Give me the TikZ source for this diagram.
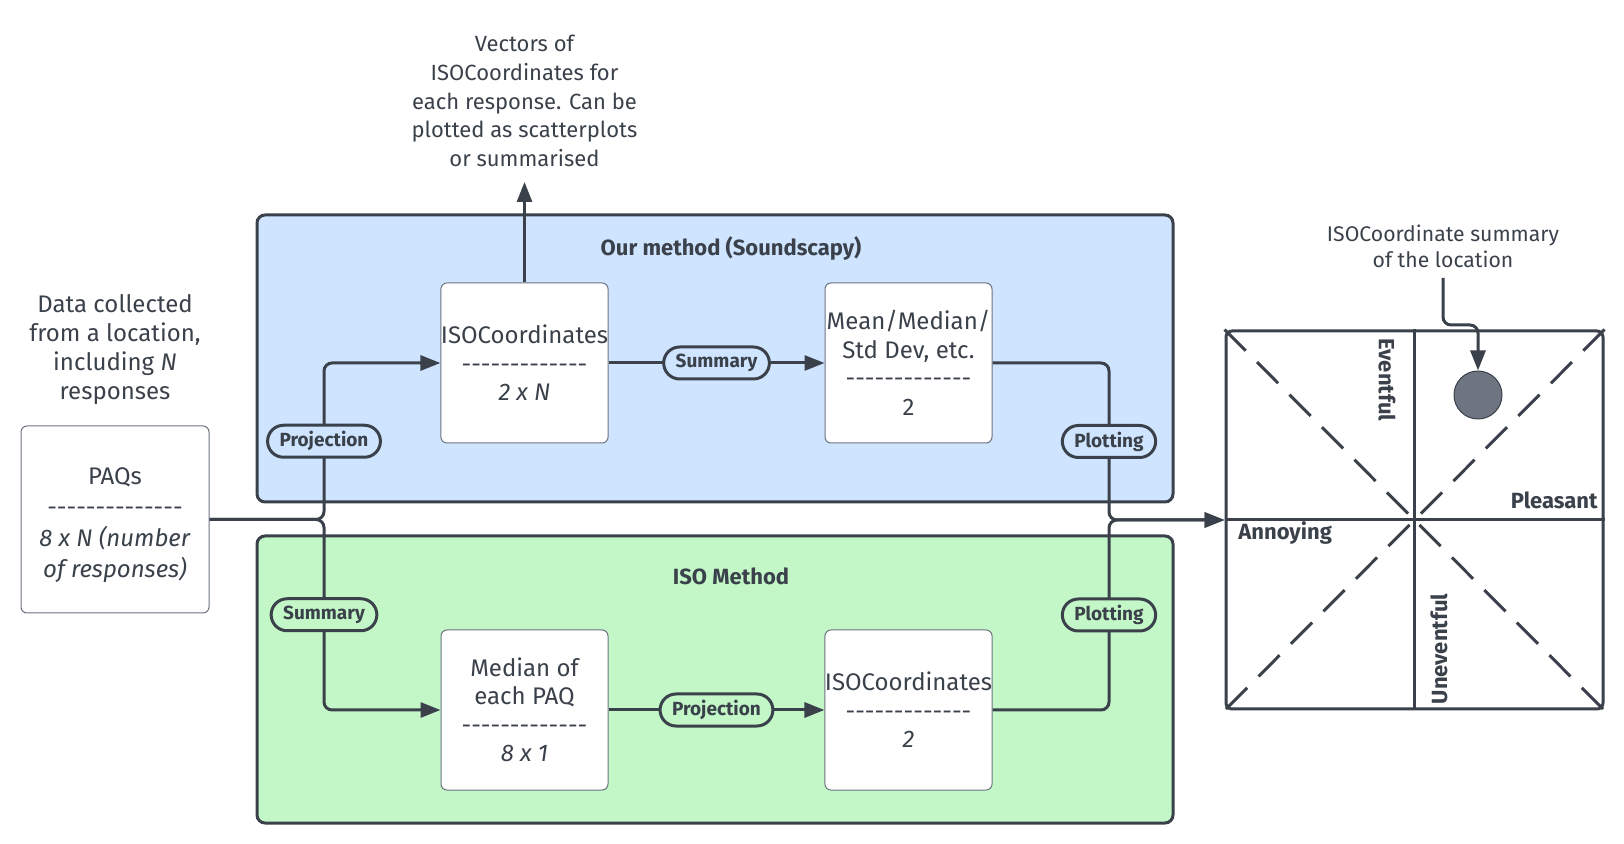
\documentclass[tikz,border=0pt]{standalone}
\usepackage{fontspec}
\setmainfont{Fira Sans}
\usetikzlibrary{arrows.meta}
\definecolor{ink}{HTML}{3A414A}
\definecolor{bluebg}{HTML}{CFE4FF}
\definecolor{greenbg}{HTML}{C3F7C8}
\definecolor{dotfill}{HTML}{6F7580}
\definecolor{boxedge}{HTML}{6B7280}
\newcommand\hy{\mbox{-}}
\newcommand\dshrow{\hy\hy\hy\hy\hy\hy\hy\hy\hy\hy\hy\hy\hy}
\begin{document}
\begin{tikzpicture}[x=0.5pt,y=-0.5pt,
  every node/.style={text=ink},
  conn/.style={draw=ink, line width=1.5pt, rounded corners=4pt},
  arr/.style={-{Triangle[length=10pt,width=7.5pt]}},
  container/.style={draw=ink, line width=1.5pt, rounded corners=4pt, minimum width=458pt, minimum height=143.5pt, inner sep=0pt},
  card/.style={draw=boxedge, line width=0.5pt, fill=white, rounded corners=3pt, minimum width=83.5pt, minimum height=80pt, align=center, inner sep=0pt, font=\fontsize{12}{14.25}\selectfont},
  pill/.style={rectangle, rounded corners=8pt, draw=ink, line width=1.5pt, font=\fontsize{9.5}{11}\selectfont\bfseries, minimum height=16pt, inner xsep=6pt, inner ysep=0pt},
  ttl/.style={font=\fontsize{11}{13}\selectfont\bfseries},
  note/.style={align=center},
  axislbl/.style={font=\fontsize{11}{13}\selectfont\bfseries, inner sep=0pt},
  axis/.style={draw=ink, line width=1.5pt}
]
\useasboundingbox (0,0) rectangle (1624,844);

% containers
\node[container, fill=bluebg] (ours) at (715,358.5) {};
\node[container, fill=greenbg] (isom) at (715,679.5) {};
\node[ttl] (ourst) at (731,248) {Our method (Soundscapy)};
\node[ttl] (isot) at (731,576) {ISO Method};

% free texts
\node[note, font=\fontsize{12}{14.5}\selectfont] (data) at (115,350) {Data collected\\from a location,\\including \textit{N}\\responses};
\node[note, font=\fontsize{11}{14.3}\selectfont] (vec) at (524.5,101) {Vectors of\\ISOCoordinates for\\each response. Can be\\plotted as scatterplots\\or summarised};
\node[note, font=\fontsize{10.6}{13}\selectfont] (sumnote) at (1443,246) {ISOCoordinate summary\\of the location};

% cards
\node[card, minimum width=94pt, minimum height=93.5pt] (paq) at (115,519.5) {};
\node[align=center, inner sep=0pt, font=\fontsize{12}{15.5}\selectfont] (paqtext) at (115,525) {PAQs\\\dshrow\hy\\\textit{8 x N (number}\\\textit{of responses)}};
\node[card] (iso1) at (524.5,363) {ISOCoordinates\\\dshrow\\\textit{2 x N}};
\node[card] (mean) at (908.5,363) {Mean/Median/\\Std Dev, etc.\\\dshrow\\2};
\node[card] (med) at (524.5,710) {Median of\\each PAQ\\\dshrow\\\textit{8 x 1}};
\node[card] (iso2) at (908.5,710) {ISOCoordinates\\\dshrow\\\textit{2}};

% circumplex square
\node[draw=ink, line width=1.5pt, rounded corners=3pt, minimum width=188.5pt, minimum height=189pt, inner sep=0pt] (sq) at (1414.5,520) {};
\draw[axis, dash pattern=on 15pt off 8pt] (sq.north west) -- (sq.south east);
\draw[axis, dash pattern=on 15pt off 8pt] (sq.north east) -- (sq.south west);
\draw[axis] (sq.north) -- (sq.south);
\draw[axis] (sq.west) -- (sq.east);
\node[axislbl, rotate=-90] (evt) at (1387,380) {Eventful};
\node[axislbl, rotate=90] (unevt) at (1439,649) {Uneventful};
\node[axislbl, anchor=east] (pls) at (1598,500) {Pleasant};
\node[axislbl, anchor=west] (ann) at (1238,533) {Annoying};
\node[circle, draw=ink, line width=0.5pt, fill=dotfill, minimum size=24pt, inner sep=0pt] (dot) at (1478,395) {};

% connectors
\coordinate (j1) at (324,519.5);
\coordinate (j2) at (1109,520);
\coordinate (vtip) at (524.5,182);
\coordinate (c1) at (1443,278);
\coordinate (c2) at (1443,325);

\draw[conn,arr] (paq.east) -- (j1) |- node[pill, fill=bluebg, pos=0.25] (p1) {Projection} (iso1.west);
\draw[conn,arr] (paq.east) -- (j1) |- node[pill, fill=greenbg, pos=0.25] (p2) {Summary} (med.west);
\draw[conn,arr] (iso1.east) -- node[pill, fill=bluebg] (p3) {Summary} (mean.west);
\draw[conn,arr] (med.east) -- node[pill, fill=greenbg] (p4) {Projection} (iso2.west);
\draw[conn,arr] (mean.east) -| node[pill, fill=bluebg, pos=0.75] (p5) {Plotting} (j2) -- (sq.west);
\draw[conn,arr] (iso2.east) -| node[pill, fill=greenbg, pos=0.75] (p6) {Plotting} (j2) -- (sq.west);
\draw[conn,arr] (iso1.north) -- (vtip);
\draw[conn,arr] (c1) -- (c2) -| (dot.north);
\end{tikzpicture}
\end{document}
